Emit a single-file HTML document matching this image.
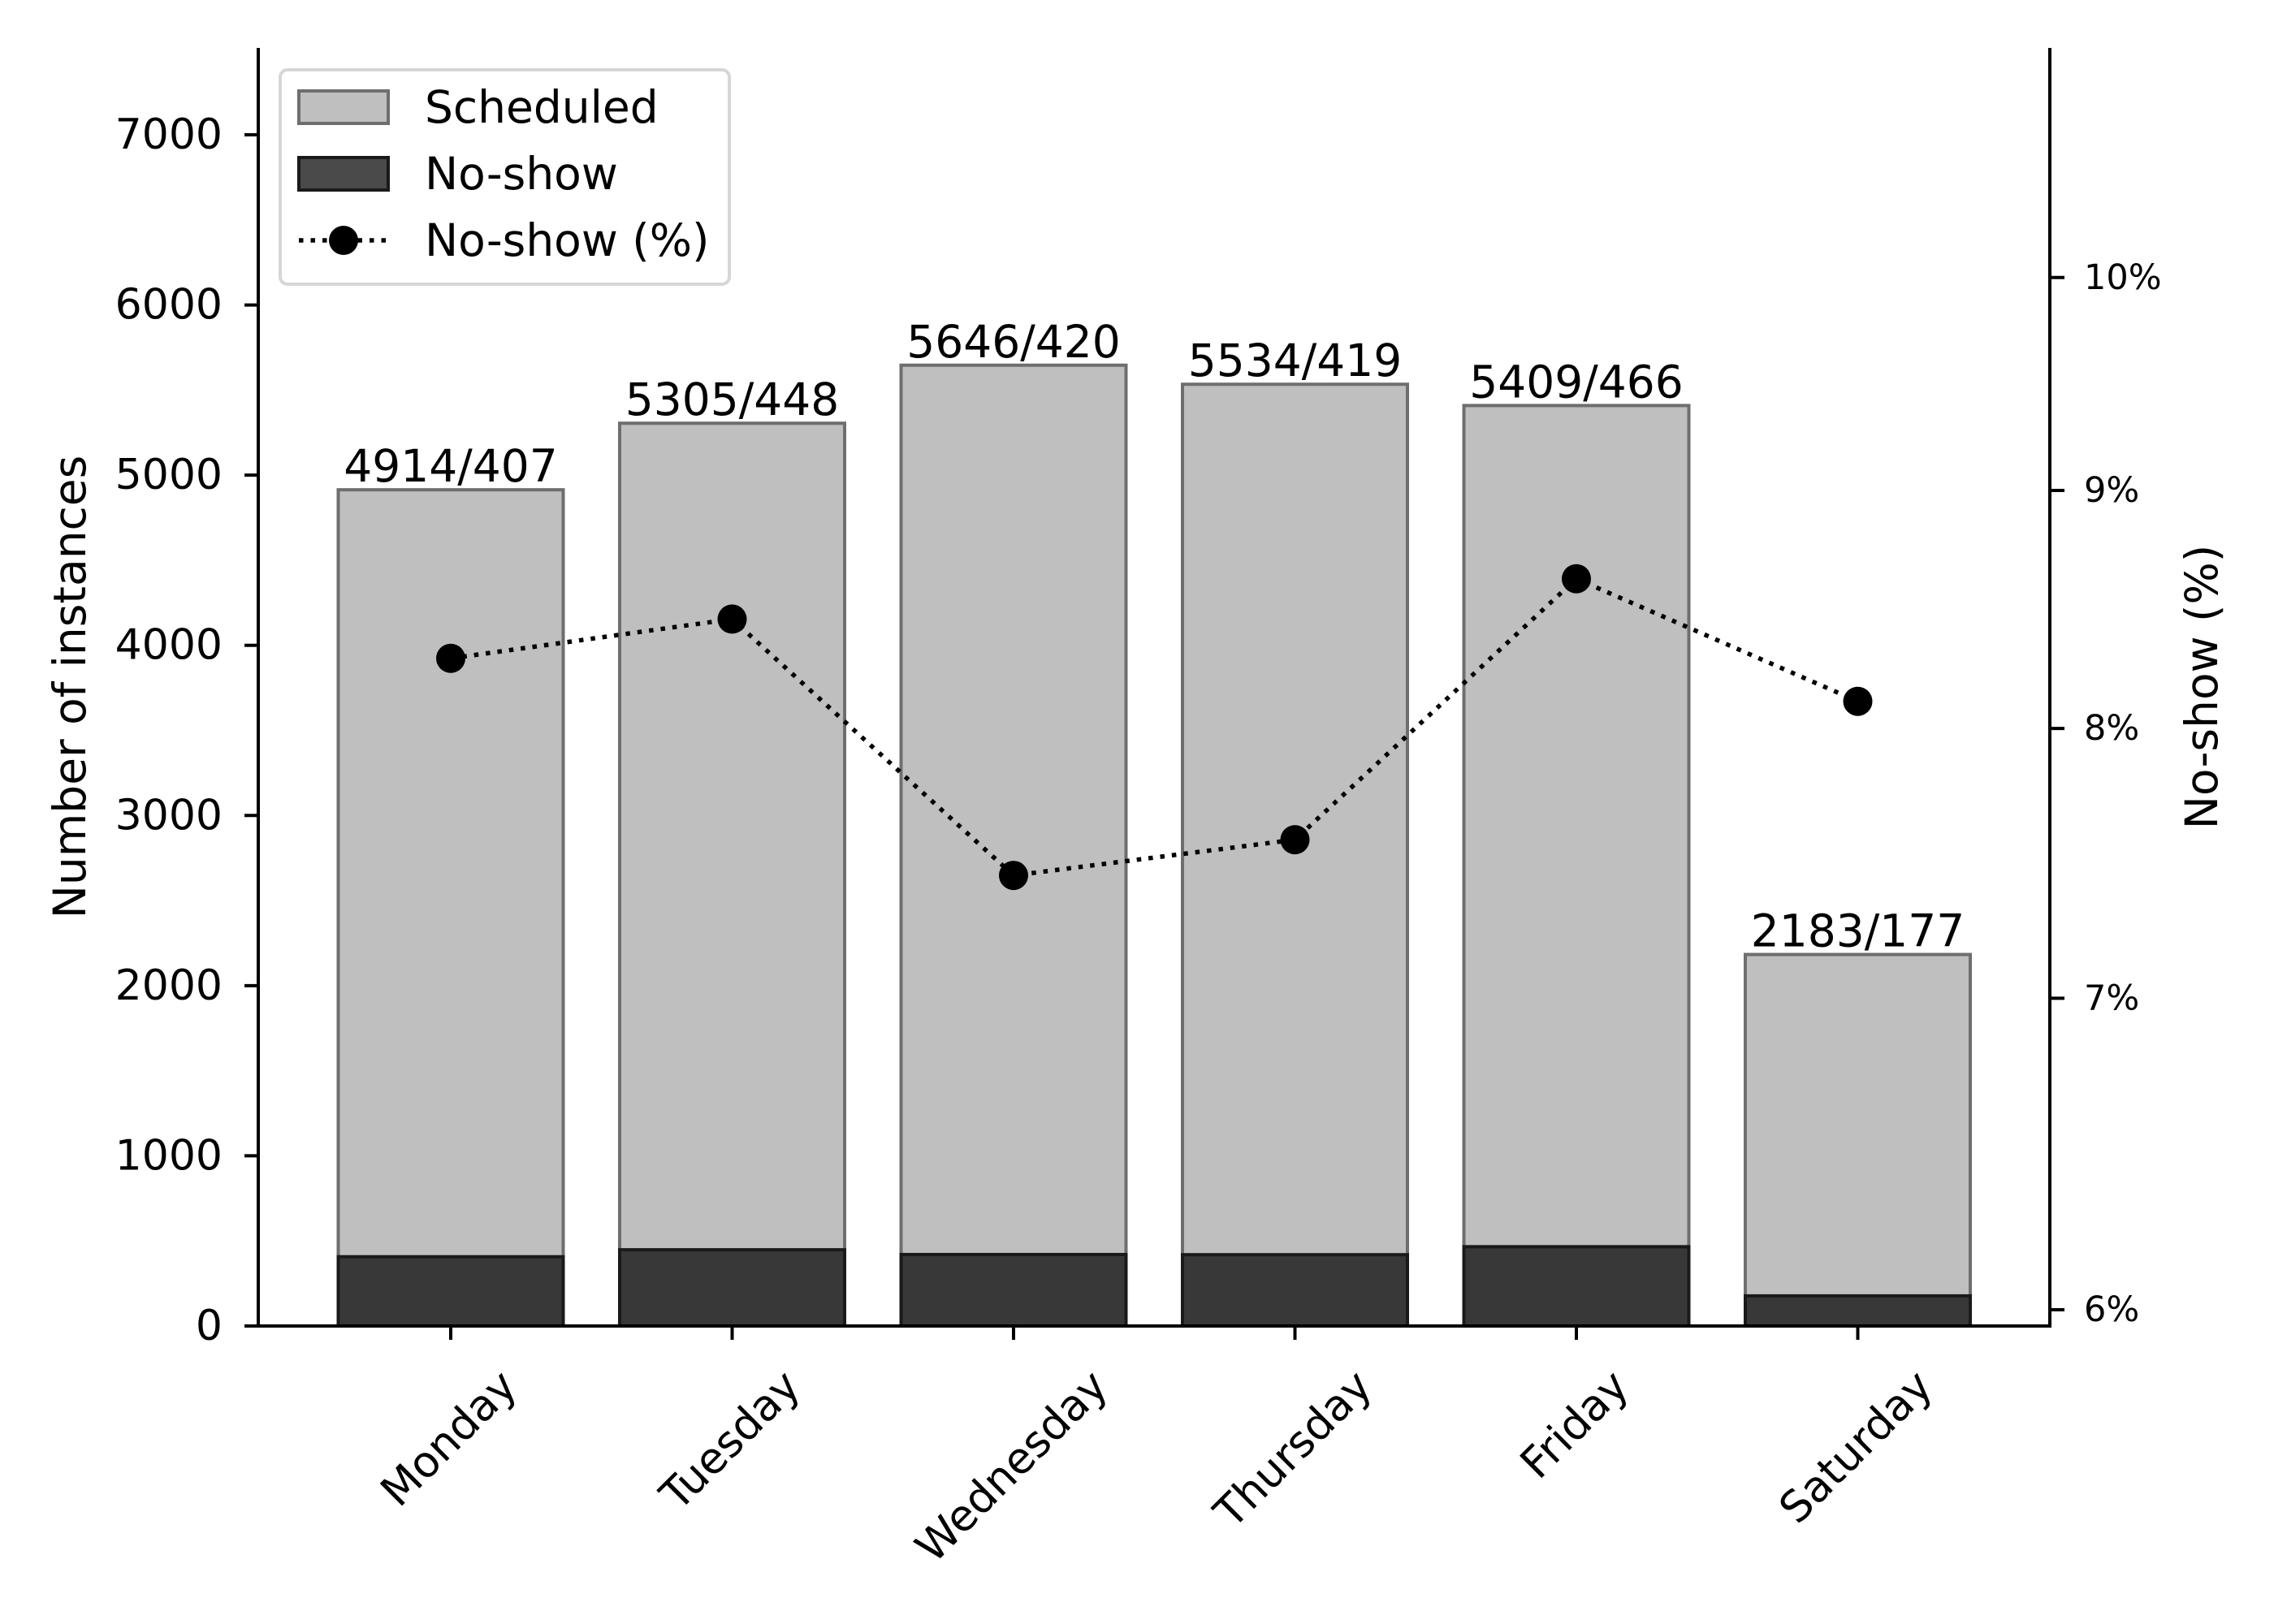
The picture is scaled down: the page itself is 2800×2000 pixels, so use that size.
<!DOCTYPE html>
<html><head><meta charset="utf-8">
<style>
html,body{margin:0;padding:0;background:#fff;}
svg{display:block;font-family:"DejaVu Sans","Liberation Sans",sans-serif;}
</style></head>
<body>
<svg id="chart" width="2800" height="2000" viewBox="0 0 2800 2000" xmlns="http://www.w3.org/2000/svg">
<rect width="2800" height="2000" fill="#fff"/>
<g id="bars"></g>
<g id="line"></g>
<g id="axes"></g>
<g id="legend">
  <rect x="345" y="86" width="553" height="264" rx="9" fill="#fff" fill-opacity="0.8" stroke="#d6d6d6" stroke-width="4"/>
  <rect x="368" y="112" width="110" height="40" fill="#bfbfbf" stroke="#6e6e6e" stroke-width="4"/>
  <text x="523" y="132" font-size="55" dominant-baseline="central">Scheduled</text>
  <rect x="368" y="194" width="110" height="40" fill="#4a4a4a" stroke="#1a1a1a" stroke-width="4"/>
  <text x="523" y="214" font-size="55" dominant-baseline="central">No-show</text>
  <line x1="368" y1="296" x2="478" y2="296" stroke="#000" stroke-width="5.5" stroke-dasharray="5.5,9"/>
  <circle cx="423" cy="296" r="18" fill="#000"/>
  <text x="523" y="296" font-size="55" dominant-baseline="central">No-show (%)</text>
</g>
</svg>
<script>
const days = ["Monday","Tuesday","Wednesday","Thursday","Friday","Saturday"];
const scheduled = [4914,5305,5646,5534,5409,2183];
const noshow = [407,448,420,419,466,177];
const leftTicks = [0,1000,2000,3000,4000,5000,6000,7000];
const rightTicks = [6,7,8,9,10];
const rightTickLabels = ["6%","7%","8%","9%","10%"];

const NS="http://www.w3.org/2000/svg";
const X0=318, X1=2524, YB=1633, YT=59;
const x0c=555, step=346.5, barW=277;
function xs(i){return x0c+i*step;}
function yl(v){return YB-(v/7000)*(YB-166);}
function yr(p){return 1613-5730*Math.log10(p/6);}
function mk(tag,attrs,parent){const e=document.createElementNS(NS,tag);for(const k in attrs)e.setAttribute(k,attrs[k]);parent.appendChild(e);return e;}

const gb=document.getElementById('bars');
days.forEach((d,i)=>{
  const cx=xs(i);
  const r=mk('rect',{x:cx-barW/2,y:yl(scheduled[i]),width:barW,height:YB-yl(scheduled[i]),fill:'#bfbfbf',stroke:'#6e6e6e','stroke-width':4},gb);
  
  
  const n=mk('rect',{x:cx-barW/2,y:yl(noshow[i]),width:barW,height:YB-yl(noshow[i]),fill:'#383838',stroke:'#1a1a1a','stroke-width':4},gb);
  
  
  const t=mk('text',{x:cx,y:yl(scheduled[i])-10,'font-size':55,'text-anchor':'middle'},gb);
  t.textContent=scheduled[i]+'/'+noshow[i];
  
  
});

const gl=document.getElementById('line');
const pts=days.map((d,i)=>[xs(i),yr(100*noshow[i]/scheduled[i])]);
const pl=mk('polyline',{points:pts.map(p=>p.join(',')).join(' '),fill:'none',stroke:'#000','stroke-width':5.5,'stroke-dasharray':'5.5,9'},gl);


pts.forEach((p,i)=>{
  const c=mk('circle',{cx:p[0],cy:p[1],r:18,fill:'#000'},gl);
  
  
});

const ga=document.getElementById('axes');
let a=mk('line',{x1:X0,y1:YT,x2:X0,y2:YB,stroke:'#000','stroke-width':4},ga);


a=mk('line',{x1:X1,y1:YT,x2:X1,y2:YB,stroke:'#000','stroke-width':4},ga);


a=mk('line',{x1:X0-2,y1:YB,x2:X1+2,y2:YB,stroke:'#000','stroke-width':4},ga);


leftTicks.forEach(v=>{
  const y=yl(v);
  const l=mk('line',{x1:X0-17,y1:y,x2:X0,y2:y,stroke:'#000','stroke-width':4},ga);
  
  
  const t=mk('text',{x:274,y:y,'font-size':52,'text-anchor':'end','dominant-baseline':'central'},ga);
  t.textContent=v;
  
  
});
rightTicks.forEach((p,i)=>{
  const y=yr(p);
  const l=mk('line',{x1:X1,y1:y,x2:X1+18,y2:y,stroke:'#000','stroke-width':4},ga);
  
  
  const t=mk('text',{x:2566,y:y,'font-size':43,'dominant-baseline':'central'},ga);
  t.textContent=rightTickLabels[i];
  
  
});
days.forEach((d,i)=>{
  const cx=xs(i);
  const l=mk('line',{x1:cx,y1:YB,x2:cx,y2:YB+17,stroke:'#000','stroke-width':4},ga);
  
  
  const t=mk('text',{x:0,y:0,'font-size':53,'text-anchor':'middle','dominant-baseline':'central'},ga);
  t.textContent=d;
  
  
  const w=t.getComputedTextLength();
  const half=(w+53)*0.7071/2;
  const cy=1679+half;
  t.setAttribute('transform','translate('+(cx-2)+','+cy+') rotate(-45)');
});
let yt=mk('text',{x:0,y:0,'font-size':55,'text-anchor':'middle','dominant-baseline':'central',transform:'translate(86,846) rotate(-90)'},ga);
yt.textContent='Number of instances';


yt=mk('text',{x:0,y:0,'font-size':55,'text-anchor':'middle','dominant-baseline':'central',transform:'translate(2711,846) rotate(-90)'},ga);
yt.textContent='No-show (%)';


</script>
</body></html>
